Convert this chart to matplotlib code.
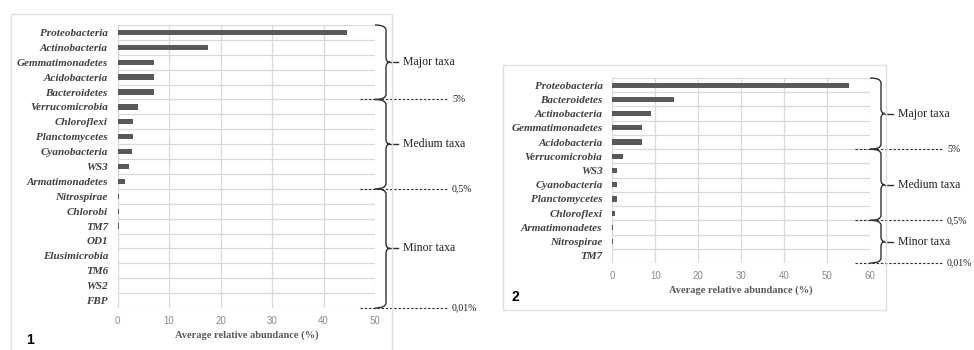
import matplotlib
matplotlib.use("Agg")
import matplotlib.pyplot as plt
from matplotlib.path import Path
from matplotlib.patches import PathPatch, Rectangle
from matplotlib.transforms import blended_transform_factory

# ---------------- data ----------------
taxa1 = ["Proteobacteria", "Actinobacteria", "Gemmatimonadetes", "Acidobacteria",
         "Bacteroidetes", "Verrucomicrobia", "Chloroflexi", "Planctomycetes",
         "Cyanobacteria", "WS3", "Armatimonadetes", "Nitrospirae", "Chlorobi",
         "TM7", "OD1", "Elusimicrobia", "TM6", "WS2", "FBP"]
abund1 = [44.5, 17.5, 7.0, 7.0, 7.0, 4.0, 3.0, 3.0, 2.8, 2.1, 1.4,
          0.3, 0.3, 0.2, 0.05, 0.03, 0.02, 0.02, 0.01]
xticks1 = [0, 10, 20, 30, 40, 50]
groups1 = [("Major taxa", 0, 4, "5%"), ("Medium taxa", 5, 10, "0,5%"),
           ("Minor taxa", 11, 18, "0,01%")]

taxa2 = ["Proteobacteria", "Bacteroidetes", "Actinobacteria", "Gemmatimonadetes",
         "Acidobacteria", "Verrucomicrobia", "WS3", "Cyanobacteria",
         "Planctomycetes", "Chloroflexi", "Armatimonadetes", "Nitrospirae", "TM7"]
abund2 = [55.0, 14.4, 8.9, 7.0, 7.0, 2.4, 1.0, 1.0, 1.0, 0.6, 0.1, 0.1, 0.02]
xticks2 = [0, 10, 20, 30, 40, 50, 60]
groups2 = [("Major taxa", 0, 4, "5%"), ("Medium taxa", 5, 9, "0,5%"),
           ("Minor taxa", 10, 12, "0,01%")]

xlabel = "Average relative abundance (%)"

# ---------------- figure ----------------
W, H = 974, 350
fig = plt.figure(figsize=(W / 100, H / 100), dpi=100)

SERIF = ["Liberation Serif", "DejaVu Serif"]
SANS = ["Liberation Sans", "DejaVu Sans"]
BAR = "#595959"
GRID = "#d9d9d9"
TXT = "#404040"


def px_axes(left, right, top, bottom):
    return fig.add_axes([left / W, 1 - bottom / H, (right - left) / W, (bottom - top) / H])


def frame(x0, y0, x1, y1):
    fig.patches.append(Rectangle((x0 / W, 1 - y1 / H), (x1 - x0) / W, (y1 - y0) / H,
                                 transform=fig.transFigure, fill=False,
                                 edgecolor="#e0e0e0", linewidth=1.0))


def panel(ax, taxa, vals, xticks, groups, ax_left, ax_right, label_num, num_xy):
    n = len(taxa)
    ypos = list(range(n))
    ax.barh(ypos, vals, height=0.36, color=BAR, zorder=3)
    ax.set_xlim(xticks[0], xticks[-1])
    ax.set_ylim(n - 0.5, -0.5)
    ax.set_xticks(xticks)
    ax.set_xticklabels([str(t) for t in xticks], fontfamily=SANS, fontsize=7, color="#8c8c8c")
    ax.set_yticks(ypos)
    ax.set_yticklabels(taxa, fontfamily=SERIF, fontsize=8, fontstyle="italic",
                       fontweight="bold", color=TXT)
    ax.set_yticks([i - 0.5 for i in range(n + 1)], minor=True)
    ax.tick_params(axis="both", which="both", length=0)
    ax.tick_params(axis="y", pad=7)
    ax.tick_params(axis="x", pad=6)
    ax.grid(axis="x", which="major", color=GRID, linewidth=0.9, zorder=0)
    ax.grid(axis="y", which="minor", color=GRID, linewidth=0.9, zorder=0)
    for s in ax.spines.values():
        s.set_visible(False)
    ax.set_xlabel(xlabel, fontfamily=SERIF, fontsize=7.5, fontweight="bold", color="#595959",
                  labelpad=3)
    ax.set_axisbelow(True)

    # braces: x in pixel-based axes fraction, y in data
    tr = blended_transform_factory(ax.transAxes, ax.transData)
    wpx = ax_right - ax_left

    def fx(dpx):
        return 1 + dpx / wpx

    x0, xv, xt = fx(0), fx(11), fx(15)
    r = 0.35
    for name, i0, i1, thr in groups:
        ya, yb = i0 - 0.5, i1 + 0.5
        ym = (ya + yb) / 2
        verts = [(x0, ya), (xv, ya), (xv, ya + r),
                 (xv, ym - r),
                 (xv, ym), (xt, ym),
                 (xv, ym), (xv, ym + r),
                 (xv, yb - r),
                 (xv, yb), (x0, yb)]
        codes = [Path.MOVETO, Path.CURVE3, Path.CURVE3,
                 Path.LINETO,
                 Path.CURVE3, Path.CURVE3,
                 Path.CURVE3, Path.CURVE3,
                 Path.LINETO,
                 Path.CURVE3, Path.CURVE3]
        ax.add_patch(PathPatch(Path(verts, codes), transform=tr, fill=False,
                               edgecolor="#303030", linewidth=1.0, clip_on=False))
        ax.plot([xt, fx(23)], [ym, ym], transform=tr, color="#303030", lw=1.0, clip_on=False)
        ax.text(fx(28), ym, name, transform=tr, fontfamily=SERIF, fontsize=8.5,
                color="#202020", va="center", ha="left", clip_on=False)
        # threshold dashed line
        ax.plot([fx(-15), fx(73)], [yb, yb], transform=tr, color="#303030", lw=0.8,
                linestyle=(0, (2.2, 1.6)), clip_on=False)
        ax.text(fx(77), yb, thr, transform=tr, fontfamily=SERIF, fontsize=7,
                color="#202020", va="center", ha="left", clip_on=False)

    fig.text(num_xy[0] / W, 1 - num_xy[1] / H, label_num, fontfamily=SANS, fontsize=10,
             fontweight="bold", color="black", va="center", ha="left")


# panel 1
frame(11, 14, 392, 352)
ax1 = px_axes(117.7, 375, 25, 308)
panel(ax1, taxa1, abund1, xticks1, groups1, 117.7, 375, "1", (26, 340))

# panel 2
frame(503, 65, 886, 310)
ax2 = px_axes(612.3, 870, 78, 263)
panel(ax2, taxa2, abund2, xticks2, groups2, 612.3, 870, "2", (512, 297))

fig.savefig("out.png", dpi=100, facecolor="white")
